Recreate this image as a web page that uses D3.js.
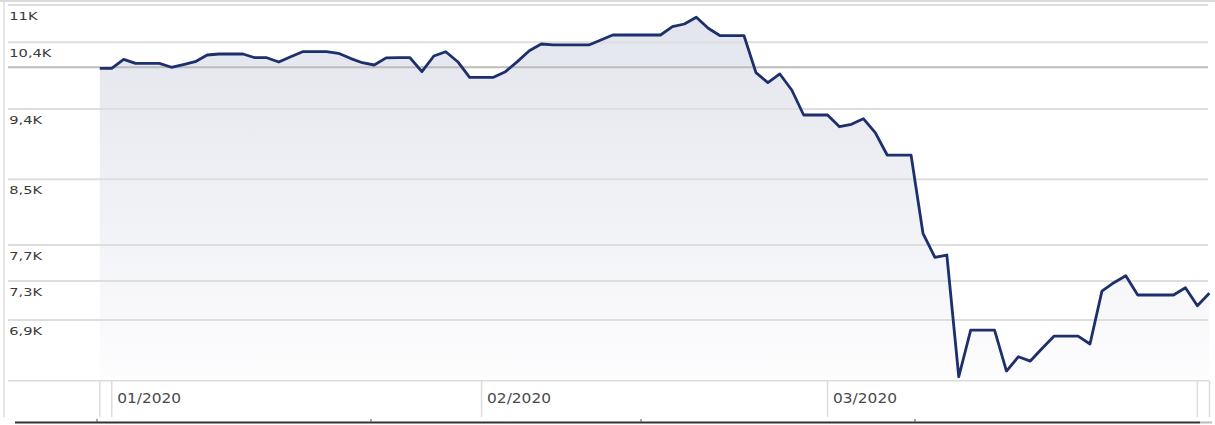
<!DOCTYPE html>
<html><head><meta charset="utf-8">
<script src="https://cdn.jsdelivr.net/npm/d3@7"></script>
<style>body{margin:0;background:#fff}svg{display:block}</style>
</head><body>
<svg id="c" width="1215" height="425"></svg>
<script>
// ---- data ----
const startDate = "2019-12-31";
const endDate = "2020-04-02";
const values = [
  10016,10016,10150,10090,10090,10090,10031,10072,10114,10215,
  10230,10230,10230,10174,10174,10110,10188,10265,10265,10265,
  10241,10165,10099,10065,10172,10174,10174,9966,10200,10265,
  10114,9883,9883,9883,9966,10115,10280,10383,10368,10368,
  10368,10368,10444,10522,10522,10522,10522,10522,10652,10695,
  10802,10627,10511,10511,10511,9951,9805,9932,9699,9347,
  9347,9347,9186,9219,9296,9105,8809,8809,8809,7845,
  7571,7597,6344,6798,6798,6798,6398,6535,6493,6617,
  6738,6738,6738,6659,7202,7292,7367,7160,7160,7160,
  7160,7238,7047,7178
];
const refValue = 10030;
const yDomain = [6307, 11000];
const yTickValues = [11000, 10410, 9430, 8500, 7710, 7310, 6900];
const yTickLabels = ["11K", "10,4K", "9,4K", "8,5K", "7,7K", "7,3K", "6,9K"];
const monthTicks = ["2020-01-01", "2020-02-01", "2020-03-01", "2020-04-01"];
const monthLabels = ["01/2020", "02/2020", "03/2020", ""];

// ---- build ----
const parse = d3.timeParse("%Y-%m-%d");
const dates = d3.timeDay.range(parse(startDate), d3.timeDay.offset(parse(endDate), 1));
const data = dates.map((d, i) => ({date: d, value: values[i]}));

const svg = d3.select("#c");
const W = 1215;
const plotLeft = 8, plotRight = 1208, plotTop = 5, plotBottom = 380.7;

const x = d3.scaleTime().domain([dates[0], dates[dates.length - 1]]).range([99.8, 1209.3]);
const y = d3.scaleLog().domain(yDomain).range([plotBottom, plotTop]);

// gradient
const defs = svg.append("defs");
const grad = defs.append("linearGradient").attr("id", "fillGrad")
  .attr("gradientUnits", "userSpaceOnUse").attr("x1", 0).attr("x2", 0)
  .attr("y1", plotTop).attr("y2", plotBottom);
grad.append("stop").attr("offset", "0%").attr("stop-color", "#e2e4ec");
grad.append("stop").attr("offset", "100%").attr("stop-color", "#fdfdfe");

// frame
svg.append("line").attr("x1", 0).attr("x2", W).attr("y1", 1).attr("y2", 1)
  .attr("stroke", "#cfcfcf").attr("stroke-width", 1.5);
svg.append("line").attr("x1", 4).attr("x2", 4).attr("y1", 0).attr("y2", 417)
  .attr("stroke", "#dcdcdc").attr("stroke-width", 1.5);

// area
const area = d3.area().x(d => x(d.date)).y0(plotBottom).y1(d => y(d.value));
svg.append("path").datum(data).attr("d", area).attr("fill", "url(#fillGrad)");

// gridlines
svg.append("g").selectAll("line").data(yTickValues).join("line")
  .attr("x1", plotLeft).attr("x2", plotRight)
  .attr("y1", d => y(d)).attr("y2", d => y(d))
  .attr("stroke", "#dedede").attr("stroke-width", 2);

// reference line
svg.append("line").attr("x1", plotLeft).attr("x2", plotRight)
  .attr("y1", y(refValue)).attr("y2", y(refValue))
  .attr("stroke", "#bcbcbc").attr("stroke-width", 2);

// y labels
svg.append("g").selectAll("text").data(yTickValues).join("text")
  .attr("transform", d => `translate(9.3,${y(d) + 15}) scale(1.33,1)`)
  .attr("font-family", "DejaVu Sans, Verdana, sans-serif")
  .attr("font-size", 11).attr("fill", "#3a3a3a")
  .text((d, i) => yTickLabels[i]);

// line
const line = d3.line().x(d => x(d.date)).y(d => y(d.value));
svg.append("path").datum(data).attr("d", line)
  .attr("fill", "none").attr("stroke", "#1d2f6c").attr("stroke-width", 2.8)
  .attr("stroke-linejoin", "round");

// x axis
svg.append("line").attr("x1", plotLeft).attr("x2", 1209).attr("y1", plotBottom).attr("y2", plotBottom)
  .attr("stroke", "#dcdcdc").attr("stroke-width", 1.5);
const tickDates = [dates[0]].concat(monthTicks.map(parse));
svg.append("g").selectAll("line").data(tickDates).join("line")
  .attr("x1", d => x(d)).attr("x2", d => x(d))
  .attr("y1", plotBottom).attr("y2", 417)
  .attr("stroke", "#dcdcdc").attr("stroke-width", 1.5);
svg.append("line").attr("x1", 1209.5).attr("x2", 1209.5).attr("y1", plotBottom).attr("y2", 417)
  .attr("stroke", "#dcdcdc").attr("stroke-width", 1.5);

svg.append("g").selectAll("text").data(monthTicks).join("text")
  .attr("transform", d => `translate(${x(parse(d)) + 5.5},403) scale(1.1,1)`)
  .attr("font-family", "DejaVu Sans, Verdana, sans-serif")
  .attr("font-size", 14).attr("fill", "#4a4a4a")
  .text((d, i) => monthLabels[i]);

// bottom scrollbar edge
svg.append("line").attr("x1", 15).attr("x2", 1200).attr("y1", 422.5).attr("y2", 422.5)
  .attr("stroke", "#333").attr("stroke-width", 2);
svg.append("line").attr("x1", 1200).attr("x2", 1212).attr("y1", 422.5).attr("y2", 422.5)
  .attr("stroke", "#bbb").attr("stroke-width", 2);
svg.append("g").selectAll("line").data([97, 371, 641, 915]).join("line")
  .attr("x1", d => d).attr("x2", d => d).attr("y1", 419).attr("y2", 422.5)
  .attr("stroke", "#555").attr("stroke-width", 1);
</script>
</body></html>
